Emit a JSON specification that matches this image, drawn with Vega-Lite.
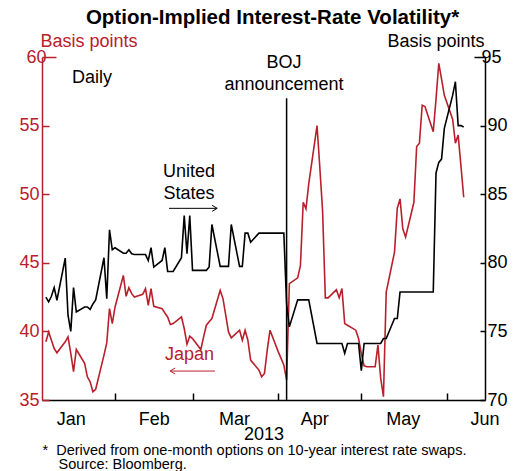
{
  "$schema": "https://vega.github.io/schema/vega-lite/v6.json",
  "width": 443,
  "height": 343,
  "autosize": "none",
  "padding": {"left": 42, "top": 57, "right": 33, "bottom": 71},
  "background": "white",
  "config": {"font": "Liberation Sans", "view": {"stroke": null}, "axis": {"grid": false}},
  "title": {"text": "Option-Implied Interest-Rate Volatility*", "fontSize": 20.5, "fontWeight": "bold", "font": "Liberation Sans", "anchor": "middle", "dx": 9, "baseline": "alphabetic", "offset": -12, "color": "black"},
  "datasets": {
    "japan": [
      {"date": "2013-01-07", "bp": 39.24}, {"date": "2013-01-08", "bp": 39.96}, {"date": "2013-01-09", "bp": 39.36}, {"date": "2013-01-10", "bp": 38.75}, {"date": "2013-01-11", "bp": 38.44},
      {"date": "2013-01-14", "bp": 39.24}, {"date": "2013-01-15", "bp": 39.6}, {"date": "2013-01-16", "bp": 38.39}, {"date": "2013-01-17", "bp": 37.06}, {"date": "2013-01-18", "bp": 38.68},
      {"date": "2013-01-21", "bp": 37.67}, {"date": "2013-01-22", "bp": 36.69}, {"date": "2013-01-23", "bp": 36.33}, {"date": "2013-01-24", "bp": 35.6}, {"date": "2013-01-25", "bp": 35.78},
      {"date": "2013-01-28", "bp": 38.27}, {"date": "2013-01-29", "bp": 39.16}, {"date": "2013-01-30", "bp": 41.66}, {"date": "2013-01-31", "bp": 40.57}, {"date": "2013-02-01", "bp": 41.78},
      {"date": "2013-02-04", "bp": 44.08}, {"date": "2013-02-05", "bp": 42.56}, {"date": "2013-02-06", "bp": 43.19}, {"date": "2013-02-07", "bp": 42.75}, {"date": "2013-02-08", "bp": 42.51},
      {"date": "2013-02-11", "bp": 42.7}, {"date": "2013-02-12", "bp": 43.12}, {"date": "2013-02-13", "bp": 41.9}, {"date": "2013-02-14", "bp": 43.12}, {"date": "2013-02-15", "bp": 41.83},
      {"date": "2013-02-18", "bp": 41.66}, {"date": "2013-02-19", "bp": 41.34}, {"date": "2013-02-20", "bp": 41.05}, {"date": "2013-02-21", "bp": 40.5}, {"date": "2013-02-22", "bp": 40.57},
      {"date": "2013-02-25", "bp": 41.05}, {"date": "2013-02-26", "bp": 40.21}, {"date": "2013-02-27", "bp": 39.07}, {"date": "2013-02-28", "bp": 39.65}, {"date": "2013-03-01", "bp": 39.48},
      {"date": "2013-03-04", "bp": 38.68}, {"date": "2013-03-05", "bp": 39.6}, {"date": "2013-03-06", "bp": 40.45}, {"date": "2013-03-07", "bp": 40.7}, {"date": "2013-03-08", "bp": 40.94},
      {"date": "2013-03-11", "bp": 42.99}, {"date": "2013-03-12", "bp": 42.39}, {"date": "2013-03-13", "bp": 41.18}, {"date": "2013-03-14", "bp": 39.96}, {"date": "2013-03-15", "bp": 39.53},
      {"date": "2013-03-18", "bp": 40.09}, {"date": "2013-03-19", "bp": 39.36}, {"date": "2013-03-20", "bp": 40.09}, {"date": "2013-03-21", "bp": 39.36}, {"date": "2013-03-22", "bp": 37.91},
      {"date": "2013-03-25", "bp": 37.18}, {"date": "2013-03-26", "bp": 36.69}, {"date": "2013-03-27", "bp": 36.94}, {"date": "2013-03-28", "bp": 38.63}, {"date": "2013-03-29", "bp": 40.09},
      {"date": "2013-04-01", "bp": 38.51}, {"date": "2013-04-02", "bp": 38.03}, {"date": "2013-04-03", "bp": 37.55}, {"date": "2013-04-04", "bp": 36.45}, {"date": "2013-04-05", "bp": 43.48},
      {"date": "2013-04-08", "bp": 43.9}, {"date": "2013-04-09", "bp": 44.81}, {"date": "2013-04-10", "bp": 49.41}, {"date": "2013-04-11", "bp": 48.93}, {"date": "2013-04-12", "bp": 50.75},
      {"date": "2013-04-15", "bp": 54.99}, {"date": "2013-04-16", "bp": 51.96}, {"date": "2013-04-17", "bp": 48.8}, {"date": "2013-04-18", "bp": 42.44}, {"date": "2013-04-19", "bp": 42.44},
      {"date": "2013-04-22", "bp": 43.04}, {"date": "2013-04-23", "bp": 42.46}, {"date": "2013-04-24", "bp": 43.12}, {"date": "2013-04-25", "bp": 40.57}, {"date": "2013-04-26", "bp": 40.45},
      {"date": "2013-04-29", "bp": 40.09}, {"date": "2013-04-30", "bp": 39.48}, {"date": "2013-05-01", "bp": 38.39}, {"date": "2013-05-02", "bp": 37.49}, {"date": "2013-05-03", "bp": 37.42},
      {"date": "2013-05-06", "bp": 37.42}, {"date": "2013-05-07", "bp": 39.0}, {"date": "2013-05-08", "bp": 36.6}, {"date": "2013-05-09", "bp": 35.24}, {"date": "2013-05-10", "bp": 42.87},
      {"date": "2013-05-13", "bp": 45.78}, {"date": "2013-05-14", "bp": 48.98}, {"date": "2013-05-15", "bp": 49.66}, {"date": "2013-05-16", "bp": 47.48}, {"date": "2013-05-17", "bp": 46.87},
      {"date": "2013-05-20", "bp": 49.41}, {"date": "2013-05-21", "bp": 53.48}, {"date": "2013-05-22", "bp": 53.72}, {"date": "2013-05-23", "bp": 56.49}, {"date": "2013-05-24", "bp": 56.39},
      {"date": "2013-05-27", "bp": 54.55}, {"date": "2013-05-28", "bp": 56.93}, {"date": "2013-05-29", "bp": 59.54}, {"date": "2013-05-30", "bp": 58.38}, {"date": "2013-05-31", "bp": 57.21},
      {"date": "2013-06-03", "bp": 55.47}, {"date": "2013-06-04", "bp": 53.72}, {"date": "2013-06-05", "bp": 54.31}, {"date": "2013-06-06", "bp": 52.08}, {"date": "2013-06-07", "bp": 49.78}
    ],
    "us": [
      {"date": "2013-01-07", "bp": 77.5}, {"date": "2013-01-08", "bp": 77.15}, {"date": "2013-01-09", "bp": 77.56}, {"date": "2013-01-10", "bp": 78.2}, {"date": "2013-01-11", "bp": 77.27},
      {"date": "2013-01-14", "bp": 80.34}, {"date": "2013-01-15", "bp": 76.18}, {"date": "2013-01-16", "bp": 75.0}, {"date": "2013-01-17", "bp": 78.2}, {"date": "2013-01-18", "bp": 76.42},
      {"date": "2013-01-21", "bp": 76.78}, {"date": "2013-01-22", "bp": 76.78}, {"date": "2013-01-23", "bp": 76.6}, {"date": "2013-01-24", "bp": 77.0}, {"date": "2013-01-25", "bp": 77.3},
      {"date": "2013-01-28", "bp": 80.37}, {"date": "2013-01-29", "bp": 77.39}, {"date": "2013-01-30", "bp": 82.41}, {"date": "2013-01-31", "bp": 80.95}, {"date": "2013-02-01", "bp": 81.1},
      {"date": "2013-02-04", "bp": 80.7}, {"date": "2013-02-05", "bp": 80.7}, {"date": "2013-02-06", "bp": 80.95}, {"date": "2013-02-07", "bp": 80.66}, {"date": "2013-02-08", "bp": 80.61},
      {"date": "2013-02-11", "bp": 80.61}, {"date": "2013-02-12", "bp": 80.6}, {"date": "2013-02-13", "bp": 80.17}, {"date": "2013-02-14", "bp": 81.1}, {"date": "2013-02-15", "bp": 79.69},
      {"date": "2013-02-18", "bp": 80.17}, {"date": "2013-02-19", "bp": 81.1}, {"date": "2013-02-20", "bp": 79.37}, {"date": "2013-02-21", "bp": 79.37}, {"date": "2013-02-22", "bp": 79.37},
      {"date": "2013-02-25", "bp": 80.37}, {"date": "2013-02-26", "bp": 83.44}, {"date": "2013-02-27", "bp": 80.66}, {"date": "2013-02-28", "bp": 83.44}, {"date": "2013-03-01", "bp": 79.45},
      {"date": "2013-03-04", "bp": 79.45}, {"date": "2013-03-05", "bp": 79.45}, {"date": "2013-03-06", "bp": 79.45}, {"date": "2013-03-07", "bp": 79.69}, {"date": "2013-03-08", "bp": 82.79},
      {"date": "2013-03-11", "bp": 79.74}, {"date": "2013-03-12", "bp": 79.74}, {"date": "2013-03-13", "bp": 79.74}, {"date": "2013-03-14", "bp": 79.74}, {"date": "2013-03-15", "bp": 82.79},
      {"date": "2013-03-18", "bp": 79.74}, {"date": "2013-03-19", "bp": 79.74}, {"date": "2013-03-20", "bp": 82.16}, {"date": "2013-03-21", "bp": 82.16}, {"date": "2013-03-22", "bp": 81.5},
      {"date": "2013-03-25", "bp": 82.16}, {"date": "2013-03-26", "bp": 82.16}, {"date": "2013-03-27", "bp": 82.16}, {"date": "2013-03-28", "bp": 82.16}, {"date": "2013-03-29", "bp": 82.16},
      {"date": "2013-04-01", "bp": 82.16}, {"date": "2013-04-02", "bp": 82.16}, {"date": "2013-04-03", "bp": 82.16}, {"date": "2013-04-04", "bp": 77.0}, {"date": "2013-04-05", "bp": 75.33},
      {"date": "2013-04-08", "bp": 77.3}, {"date": "2013-04-09", "bp": 77.3}, {"date": "2013-04-10", "bp": 77.3}, {"date": "2013-04-11", "bp": 77.3}, {"date": "2013-04-12", "bp": 77.3},
      {"date": "2013-04-15", "bp": 74.12}, {"date": "2013-04-16", "bp": 74.12}, {"date": "2013-04-17", "bp": 74.12}, {"date": "2013-04-18", "bp": 74.12}, {"date": "2013-04-19", "bp": 74.12},
      {"date": "2013-04-22", "bp": 74.12}, {"date": "2013-04-23", "bp": 74.12}, {"date": "2013-04-24", "bp": 74.12}, {"date": "2013-04-25", "bp": 73.4}, {"date": "2013-04-26", "bp": 74.12},
      {"date": "2013-04-29", "bp": 74.12}, {"date": "2013-04-30", "bp": 74.12}, {"date": "2013-05-01", "bp": 72.13}, {"date": "2013-05-02", "bp": 74.12}, {"date": "2013-05-03", "bp": 74.12},
      {"date": "2013-05-06", "bp": 74.12}, {"date": "2013-05-07", "bp": 74.12}, {"date": "2013-05-08", "bp": 74.12}, {"date": "2013-05-09", "bp": 74.48}, {"date": "2013-05-10", "bp": 74.48},
      {"date": "2013-05-13", "bp": 75.94}, {"date": "2013-05-14", "bp": 75.94}, {"date": "2013-05-15", "bp": 77.87}, {"date": "2013-05-16", "bp": 77.87}, {"date": "2013-05-17", "bp": 77.87},
      {"date": "2013-05-20", "bp": 77.87}, {"date": "2013-05-21", "bp": 77.87}, {"date": "2013-05-22", "bp": 77.87}, {"date": "2013-05-23", "bp": 77.87}, {"date": "2013-05-24", "bp": 77.87},
      {"date": "2013-05-27", "bp": 77.87}, {"date": "2013-05-28", "bp": 86.55}, {"date": "2013-05-29", "bp": 87.32}, {"date": "2013-05-30", "bp": 87.56}, {"date": "2013-05-31", "bp": 89.8},
      {"date": "2013-06-03", "bp": 92.2}, {"date": "2013-06-04", "bp": 93.2}, {"date": "2013-06-05", "bp": 90.0}, {"date": "2013-06-06", "bp": 90.0}, {"date": "2013-06-07", "bp": 89.9}
    ]
  },
  "layer": [
    {
      "layer": [
        {
          "data": {"name": "japan"},
          "mark": {"type": "line", "color": "#b8202c", "strokeWidth": 1.6},
          "encoding": {
            "x": {
              "field": "date", "type": "temporal",
              "scale": {"type": "utc", "domain": [{"year": 2013, "month": 1, "date": 5, "hours": 14, "minutes": 24, "utc": true}, {"year": 2013, "month": 6, "date": 14, "hours": 16, "minutes": 48, "utc": true}]},
              "axis": {
                "orient": "bottom",
                "values": [
                  {"year": 2013, "month": 2, "date": 1, "utc": true}, {"year": 2013, "month": 3, "date": 1, "utc": true}, {"year": 2013, "month": 4, "date": 1, "utc": true}, {"year": 2013, "month": 5, "date": 1, "utc": true}, {"year": 2013, "month": 6, "date": 1, "utc": true},
                  {"year": 2013, "month": 1, "date": 16, "utc": true}, {"year": 2013, "month": 2, "date": 15, "utc": true}, {"year": 2013, "month": 3, "date": 16, "utc": true}, {"year": 2013, "month": 4, "date": 14, "utc": true}, {"year": 2013, "month": 5, "date": 16, "utc": true}, {"year": 2013, "month": 6, "date": 14, "hours": 12, "utc": true}
                ],
                "labelExpr": "utcdate(datum.value) == 1 ? '' : utcFormat(datum.value, '%b')",
                "tickSize": -7,
                "tickOpacity": {"condition": {"test": "utcdate(datum.value) == 1", "value": 1}, "value": 0},
                "tickColor": "black", "tickWidth": 1.5,
                "domainColor": "black", "domainWidth": 1.5,
                "labelFontSize": 18, "labelColor": "black", "labelPadding": 17,
                "labelFlush": false, "labelOverlap": false, "labelBound": false,
                "title": "2013", "titleFontSize": 18, "titleFontWeight": "normal", "titleColor": "black",
                "titleBaseline": "alphabetic", "titleY": 39,
                "grid": false
              }
            },
            "y": {
              "field": "bp", "type": "quantitative",
              "scale": {"domain": [35, 60], "nice": false, "zero": false},
              "axis": {
                "orient": "left",
                "values": [35, 40, 45, 50, 55, 60],
                "tickSize": {"condition": {"test": "datum.value == 60", "value": -14}, "value": -7},
                "tickColor": "#b8202c", "tickWidth": 1.5,
                "domainColor": "#b8202c", "domainWidth": 1.5,
                "labelColor": "#b8202c", "labelFontSize": 18, "labelPadding": 10,
                "title": "Basis points", "titleColor": "#b8202c", "titleFontSize": 18, "titleFontWeight": "normal",
                "titleAngle": 0, "titleAlign": "left", "titleBaseline": "alphabetic", "titleX": -2, "titleY": -11,
                "grid": false
              }
            }
          }
        },
        {
          "data": {"values": [{}]},
          "mark": {"type": "rule", "color": "black", "strokeWidth": 1.5},
          "encoding": {
            "x": {"datum": {"year": 2013, "month": 4, "date": 4, "utc": true}, "type": "temporal"},
            "y": {"datum": 35, "type": "quantitative"},
            "y2": {"datum": 57}
          }
        },
        {
          "data": {"values": [{}]},
          "mark": {"type": "text", "text": ["BOJ", "announcement"], "align": "center", "baseline": "alphabetic", "fontSize": 18, "lineHeight": 22, "color": "black"},
          "encoding": {
            "x": {"datum": {"year": 2013, "month": 4, "date": 3, "hours": 2, "utc": true}, "type": "temporal"},
            "y": {"datum": 59.2, "type": "quantitative"}
          }
        },
        {
          "data": {"values": [{}]},
          "mark": {"type": "text", "text": "Daily", "align": "left", "baseline": "alphabetic", "fontSize": 18, "color": "black"},
          "encoding": {
            "x": {"datum": {"year": 2013, "month": 1, "date": 16, "hours": 11, "utc": true}, "type": "temporal"},
            "y": {"datum": 58.14, "type": "quantitative"}
          }
        },
        {
          "data": {"values": [{}]},
          "mark": {"type": "text", "text": ["United", "States"], "align": "center", "baseline": "alphabetic", "fontSize": 18, "lineHeight": 22, "color": "black"},
          "encoding": {
            "x": {"datum": {"year": 2013, "month": 2, "date": 27, "hours": 18, "utc": true}, "type": "temporal"},
            "y": {"datum": 51.25, "type": "quantitative"}
          }
        },
        {
          "data": {"values": [{}]},
          "mark": {"type": "rule", "color": "black", "strokeWidth": 1},
          "encoding": {
            "x": {"datum": {"year": 2013, "month": 2, "date": 20, "hours": 12, "utc": true}, "type": "temporal"},
            "x2": {"datum": {"year": 2013, "month": 3, "date": 9, "hours": 21, "minutes": 36, "utc": true}},
            "y": {"datum": 48.97, "type": "quantitative"}
          }
        },
        {
          "data": {"values": [{}]},
          "mark": {"type": "point", "shape": "M-1,-0.6L0,0L-1,0.6", "filled": false, "stroke": "black", "strokeWidth": 1, "size": 100, "opacity": 1},
          "encoding": {
            "x": {"datum": {"year": 2013, "month": 3, "date": 9, "hours": 21, "minutes": 36, "utc": true}, "type": "temporal"},
            "y": {"datum": 48.97, "type": "quantitative"}
          }
        },
        {
          "data": {"values": [{}]},
          "mark": {"type": "text", "text": "Japan", "align": "center", "baseline": "alphabetic", "fontSize": 18, "color": "#b8202c"},
          "encoding": {
            "x": {"datum": {"year": 2013, "month": 2, "date": 27, "hours": 22, "utc": true}, "type": "temporal"},
            "y": {"datum": 37.92, "type": "quantitative"}
          }
        },
        {
          "data": {"values": [{}]},
          "mark": {"type": "rule", "color": "#b8202c", "strokeWidth": 1},
          "encoding": {
            "x": {"datum": {"year": 2013, "month": 2, "date": 20, "hours": 21, "minutes": 36, "utc": true}, "type": "temporal"},
            "x2": {"datum": {"year": 2013, "month": 3, "date": 9, "hours": 2, "minutes": 24, "utc": true}},
            "y": {"datum": 37.11, "type": "quantitative"}
          }
        },
        {
          "data": {"values": [{}]},
          "mark": {"type": "point", "shape": "M1,-0.6L0,0L1,0.6", "filled": false, "stroke": "#b8202c", "strokeWidth": 1, "size": 100, "opacity": 1},
          "encoding": {
            "x": {"datum": {"year": 2013, "month": 2, "date": 20, "hours": 21, "minutes": 36, "utc": true}, "type": "temporal"},
            "y": {"datum": 37.11, "type": "quantitative"}
          }
        }
      ]
    },
    {
      "data": {"name": "us"},
      "mark": {"type": "line", "color": "black", "strokeWidth": 1.6},
      "encoding": {
        "x": {
          "field": "date", "type": "temporal",
          "scale": {"type": "utc", "domain": [{"year": 2013, "month": 1, "date": 5, "hours": 14, "minutes": 24, "utc": true}, {"year": 2013, "month": 6, "date": 14, "hours": 16, "minutes": 48, "utc": true}]},
          "axis": {
            "orient": "bottom", "domain": false, "ticks": false, "labels": false, "grid": false,
            "title": ["*\u00a0\u00a0Derived from one-month options on 10-year interest rate swaps.", "\u200b\u00a0\u00a0\u00a0\u00a0Source: Bloomberg."],
            "titleFontSize": 14.5, "titleFontWeight": "normal", "titleColor": "black",
            "titleAlign": "left", "titleAnchor": "start", "titleX": 0, "titleY": 54,
            "titleBaseline": "alphabetic", "titleLineHeight": 14
          }
        },
        "y": {
          "field": "bp", "type": "quantitative",
          "scale": {"domain": [70, 95], "nice": false, "zero": false},
          "axis": {
            "orient": "right",
            "values": [70, 75, 80, 85, 90, 95],
            "tickSize": {"condition": {"test": "datum.value == 95", "value": -11}, "value": -5},
            "tickColor": "black", "tickWidth": 1.5,
            "domainColor": "black", "domainWidth": 1.5,
            "labelColor": "black", "labelFontSize": 18, "labelPadding": 7,
            "title": "Basis points", "titleColor": "black", "titleFontSize": 18, "titleFontWeight": "normal",
            "titleAngle": 0, "titleAlign": "right", "titleBaseline": "alphabetic", "titleX": -1, "titleY": -11,
            "grid": false
          }
        }
      }
    }
  ],
  "resolve": {"scale": {"y": "independent"}, "axis": {"x": "independent"}}
}
